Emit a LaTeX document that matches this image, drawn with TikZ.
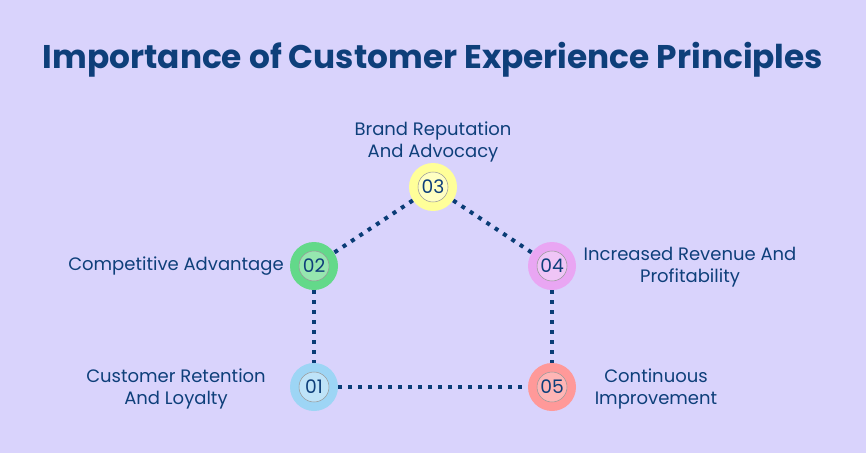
\documentclass[tikz,border=0pt]{standalone}
\usepackage{fontspec}
\setmainfont{Poppins}
\newfontfamily\titlefont{Poppins}[UprightFont=* Bold]
\definecolor{bgc}{HTML}{D9D3FC}
\definecolor{navy}{HTML}{0E3F7A}
\definecolor{lineblue}{HTML}{0A3C76}
\definecolor{c1o}{HTML}{9DD5F5}\definecolor{c1i}{HTML}{BEE3F8}
\definecolor{c2o}{HTML}{63D98A}\definecolor{c2i}{HTML}{96E6AF}
\definecolor{c3o}{HTML}{FFFF99}\definecolor{c3i}{HTML}{FFFFC2}
\definecolor{c4o}{HTML}{E9A6F3}\definecolor{c4i}{HTML}{EFC5F6}
\definecolor{c5o}{HTML}{FF9999}\definecolor{c5i}{HTML}{FFB5B5}
\begin{document}
\begin{tikzpicture}[x=0.75pt,y=-0.75pt,
  outer/.style={circle,minimum size=36pt,inner sep=0pt},
  inner/.style={circle,minimum size=22.5pt,inner sep=0pt,draw=gray!80,line width=0.4pt,text=navy,font=\fontsize{14}{14}\selectfont},
  lbl/.style={text=navy,font=\fontsize{13.5}{16.5}\selectfont,align=center,inner sep=0pt},
  dots/.style={draw=lineblue,line width=3pt,dash pattern=on 3pt off 4.5pt}]
\fill[bgc] (0,0) rectangle (866,453);
\useasboundingbox (0,0) rectangle (866,453);
\node[text=navy,font=\titlefont\fontsize{24.6}{28}\selectfont] (title) at (433,60) {Importance of Customer Experience Principles};
% circles
\node[outer,fill=c1o] (o1) at (314,387) {};
\node[outer,fill=c2o] (o2) at (314,266) {};
\node[outer,fill=c3o] (o3) at (433,187) {};
\node[outer,fill=c4o] (o4) at (552,266) {};
\node[outer,fill=c5o] (o5) at (552,387) {};
\node[inner,fill=c1i] (i1) at (o1) {01};
\node[inner,fill=c2i] (i2) at (o2) {02};
\node[inner,fill=c3i] (i3) at (o3) {03};
\node[inner,fill=c4i] (i4) at (o4) {04};
\node[inner,fill=c5i] (i5) at (o5) {05};
% connectors
\draw[dots] (o3) -- (o2);
\draw[dots] (o3) -- (o4);
\draw[dots] (o2) -- (o1);
\draw[dots] (o4) -- (o5);
\draw[dots] (o1) -- (o5);
% labels
\node[lbl] (l3) at (433,142) {Brand Reputation\\And Advocacy};
\node[lbl,anchor=east] (l2) at (284,266) {Competitive Advantage};
\node[lbl] (l4) at (690,267) {Increased Revenue And\\Profitability};
\node[lbl] (l1) at (176,389) {Customer Retention\\And Loyalty};
\node[lbl] (l5) at (656,389) {Continuous\\Improvement};
\end{tikzpicture}
\end{document}
